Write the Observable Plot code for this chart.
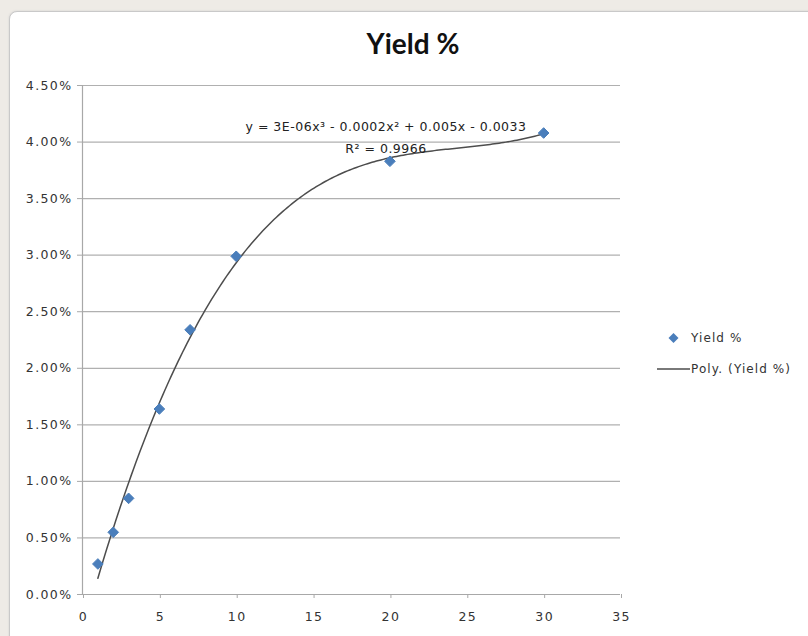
<!DOCTYPE html>
<html>
<head>
<meta charset="utf-8">
<script src="https://cdn.jsdelivr.net/npm/d3@7"></script>
<script src="https://cdn.jsdelivr.net/npm/@observablehq/plot@0.6"></script>
<style>
  html, body { margin: 0; padding: 0; }
  body { width: 808px; height: 636px; background: #eeebe6; position: relative; overflow: hidden; font-family: Lato, sans-serif; }
  #frame { position: absolute; left: 9px; top: 11px; width: 830px; height: 660px; background: #fff; border: 1px solid #c9c9c9; border-radius: 8px; box-shadow: 0 0 2px #ccc; }
  #chart { position: absolute; left: 0; top: 0; }
  #chart svg text { font-family: "DejaVu Sans", sans-serif !important; font-size: 12.5px !important; letter-spacing: 1.4px; }
  #title { position: absolute; left: 0; width: 826px; top: 26px; text-align: center; font: bold 28px Lato, sans-serif; color: #111; }
  #eq { position: absolute; left: 186px; width: 400px; top: 116px; text-align: center; font: 12.5px "DejaVu Sans", sans-serif; letter-spacing: 0.5px; color: #222; line-height: 22px; }
  #legend { position: absolute; left: 657px; top: 322px; font: 12px "DejaVu Sans", sans-serif; letter-spacing: 1.1px; color: #333; }
  .li { display: flex; align-items: center; height: 31px; }
</style>
</head>
<body>
<div id="frame"></div>
<div id="chart"></div>
<div id="title">Yield %</div>
<div id="eq">y = 3E-06x³ - 0.0002x² + 0.005x - 0.0033<br>R² = 0.9966</div>
<div id="legend">
  <div class="li"><svg width="33" height="12"><path d="M16.5,1 L21.5,6 L16.5,11 L11.5,6 Z" fill="#4a7ebb"/></svg><span style="margin-left:1px">Yield %</span></div>
  <div class="li"><svg width="33" height="12"><line x1="0" y1="6" x2="33" y2="6" stroke="#4d4d4d" stroke-width="1.5"/></svg><span style="margin-left:1px">Poly. (Yield %)</span></div>
</div>
<script>
const days = [1, 2, 3, 5, 7, 10, 20, 30];
const yieldPct = [0.0027, 0.0055, 0.0085, 0.0164, 0.0234, 0.0299, 0.0383, 0.0408];
const xTicks = [0, 5, 10, 15, 20, 25, 30, 35];
const yTicks = [0, 0.005, 0.01, 0.015, 0.02, 0.025, 0.03, 0.035, 0.04, 0.045];

const data = days.map((d, i) => ({x: d, y: yieldPct[i]}));

// Cubic least-squares trendline (as Excel "Poly." order 3)
function polyFit(xs, ys, order) {
  const n = order + 1;
  const A = Array.from({length: n}, () => new Array(n + 1).fill(0));
  for (let r = 0; r < n; r++) {
    for (let c = 0; c < n; c++) A[r][c] = d3.sum(xs, x => Math.pow(x, r + c));
    A[r][n] = d3.sum(xs, (x, i) => ys[i] * Math.pow(x, r));
  }
  for (let i = 0; i < n; i++) {
    let p = i;
    for (let k = i + 1; k < n; k++) if (Math.abs(A[k][i]) > Math.abs(A[p][i])) p = k;
    [A[i], A[p]] = [A[p], A[i]];
    for (let k = i + 1; k < n; k++) {
      const f = A[k][i] / A[i][i];
      for (let j = i; j <= n; j++) A[k][j] -= f * A[i][j];
    }
  }
  const coef = new Array(n).fill(0);
  for (let i = n - 1; i >= 0; i--) {
    let s = A[i][n];
    for (let j = i + 1; j < n; j++) s -= A[i][j] * coef[j];
    coef[i] = s / A[i][i];
  }
  return coef;
}
const coef = polyFit(days, yieldPct, 3);
const xMin = d3.min(days), xMax = d3.max(days);
const trend = d3.range(0, 201).map(i => {
  const x = xMin + (xMax - xMin) * i / 200;
  return {x, y: coef.reduce((s, c, k) => s + c * Math.pow(x, k), 0)};
});

const chart = Plot.plot({
  width: 808,
  height: 636,
  marginLeft: 82,
  marginRight: 188,
  marginTop: 85,
  marginBottom: 42,
  style: {fontFamily: "'DejaVu Sans', sans-serif", fontSize: "12.5px", color: "#333", background: "transparent", overflow: "visible"},
  x: {domain: [0, 35], label: null},
  y: {domain: [0, 0.045], label: null},
  marks: [
    Plot.gridY(yTicks, {stroke: "#b0b0b0", strokeOpacity: 1, strokeWidth: 1.2}),
    Plot.ruleX([0], {stroke: "#a8a8a8", strokeWidth: 1.2}),
    Plot.ruleY([0], {stroke: "#a8a8a8", strokeWidth: 1.2}),
    Plot.axisY(yTicks, {tickFormat: d3.format(".2%"), tickSize: 5, tickPadding: 5, fontSize: 12.5, stroke: "#a8a8a8", fill: "#333"}),
    Plot.axisX(xTicks, {tickSize: 4, tickPadding: 14, fontSize: 12.5, stroke: "#a8a8a8", fill: "#333", dx: 1}),
    Plot.line(trend, {x: "x", y: "y", stroke: "#4d4d4d", strokeWidth: 1.5}),
    Plot.dot(data, {x: "x", y: "y", symbol: "diamond2", r: 4.8, fill: "#4a7ebb", stroke: "#4a7ebb", strokeWidth: 1})
  ]
});
document.getElementById("chart").appendChild(chart);
</script>
</body>
</html>
